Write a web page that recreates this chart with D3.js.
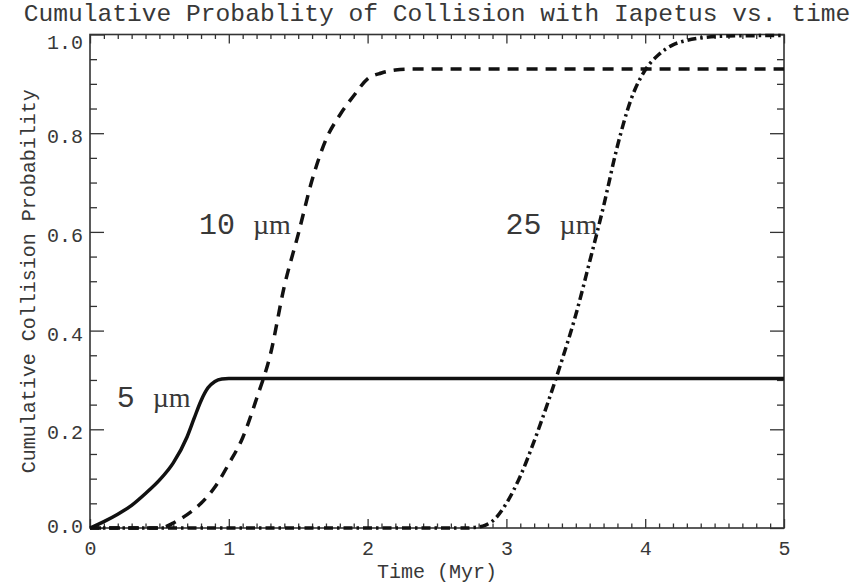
<!DOCTYPE html>
<html>
<head>
<meta charset="utf-8">
<script src="https://cdn.jsdelivr.net/npm/d3@7"></script>
<style>
  body { margin: 0; background: #fff; }
  text { font-family: "Liberation Mono", "DejaVu Sans Mono", monospace; fill: #383838; }
</style>
</head>
<body>
<svg id="chart"></svg>
<script>
// Data
const time5 = [0, 0.1, 0.2, 0.3, 0.4, 0.5, 0.6, 0.7, 0.75, 0.8, 0.85, 0.9, 0.95, 1.0, 5.0];
const prob5 = [0, 0.013, 0.028, 0.046, 0.07, 0.097, 0.132, 0.185, 0.222, 0.258, 0.284, 0.297, 0.302, 0.303, 0.303];

const time10 = [0, 0.5, 0.55, 0.6, 0.7, 0.8, 0.9, 1.0, 1.1, 1.2, 1.3, 1.4, 1.5, 1.6, 1.7, 1.8, 1.9, 2.0, 2.1, 2.2, 2.3, 5.0];
const prob10 = [0, 0, 0.003, 0.01, 0.027, 0.05, 0.083, 0.13, 0.183, 0.262, 0.352, 0.49, 0.595, 0.705, 0.787, 0.837, 0.876, 0.91, 0.922, 0.928, 0.93, 0.93];

const time25 = [0, 2.7, 2.8, 2.85, 2.9, 3.0, 3.1, 3.2, 3.3, 3.4, 3.5, 3.6, 3.7, 3.8, 3.9, 4.0, 4.1, 4.2, 4.3, 4.4, 4.6, 5.0];
const prob25 = [0, 0, 0.002, 0.006, 0.014, 0.05, 0.105, 0.176, 0.255, 0.34, 0.432, 0.54, 0.652, 0.774, 0.87, 0.928, 0.96, 0.979, 0.988, 0.993, 0.997, 0.998];

const sizeLabels = ['5', '10', '25'];
const labelTime = [0.192, 0.785, 2.994];
const labelProb = [0.246, 0.595, 0.595];

const xTicks = [0, 1, 2, 3, 4, 5];
const yTicks = [0, 0.2, 0.4, 0.6, 0.8, 1.0];

// Chart dimensions
const W = 856, H = 584;
const margin = { top: 34.5, right: 72, bottom: 56, left: 90 };
const width = W - margin.left - margin.right;
const height = H - margin.top - margin.bottom;

const root = d3.select('#chart').attr('width', W).attr('height', H);
const svg = root.append('g').attr('transform', `translate(${margin.left},${margin.top})`);

// Scales
const x = d3.scaleLinear().domain([0, 5]).range([0, width]);
const y = d3.scaleLinear().domain([0, 1]).range([height, 0]);

const xMinor = d3.range(0, 5.0001, 0.1).filter(v => Math.abs(v - Math.round(v)) > 1e-6);
const yMinor = d3.range(0, 1.0001, 0.05).filter(v => Math.abs(v * 5 - Math.round(v * 5)) > 1e-6);

// Axes: ticks point inward on all four sides
function styleAxis(g) {
  g.select('.domain').remove();
  g.selectAll('line').attr('stroke', '#333').attr('stroke-width', 1.3);
}

svg.append('g').attr('transform', `translate(0,${height})`)
  .call(d3.axisBottom(x).tickValues(xTicks).tickSize(-9).tickPadding(0).tickFormat(d3.format('d')))
  .call(styleAxis)
  .call(g => g.selectAll('text').attr('y', 27).attr('dy', 0).attr('font-size', 20));
svg.append('g').attr('transform', `translate(0,${height})`)
  .call(d3.axisBottom(x).tickValues(xMinor).tickSize(-4.5).tickFormat(''))
  .call(styleAxis);
svg.append('g')
  .call(d3.axisTop(x).tickValues(xTicks).tickSize(-9).tickFormat(''))
  .call(styleAxis);
svg.append('g')
  .call(d3.axisTop(x).tickValues(xMinor).tickSize(-4.5).tickFormat(''))
  .call(styleAxis);

svg.append('g')
  .call(d3.axisLeft(y).tickValues(yTicks).tickSize(-14).tickPadding(7).tickFormat(d3.format('.1f')))
  .call(styleAxis)
  .call(g => g.selectAll('text')
    .attr('font-size', 20)
    .attr('dy', '0.35em')
    .attr('y', d => d === 1 ? 7 : (d === 0 ? -3 : 2.5)));
svg.append('g')
  .call(d3.axisLeft(y).tickValues(yMinor).tickSize(-7).tickFormat(''))
  .call(styleAxis);
svg.append('g').attr('transform', `translate(${width},0)`)
  .call(d3.axisRight(y).tickValues(yTicks).tickSize(-14).tickFormat(''))
  .call(styleAxis);
svg.append('g').attr('transform', `translate(${width},0)`)
  .call(d3.axisRight(y).tickValues(yMinor).tickSize(-7).tickFormat(''))
  .call(styleAxis);

// Box
svg.append('rect')
  .attr('width', width).attr('height', height)
  .attr('fill', 'none').attr('stroke', '#333').attr('stroke-width', 1.6);

// Curves
const line = d3.line()
  .x(d => x(d[0]))
  .y(d => y(d[1]))
  .curve(d3.curveMonotoneX);

const series = [
  { t: time5, p: prob5, dash: null },
  { t: time10, p: prob10, dash: '11,8' },
  { t: time25, p: prob25, dash: '9,4,2.5,4' }
];

series.forEach(s => {
  svg.append('path')
    .datum(d3.zip(s.t, s.p))
    .attr('fill', 'none')
    .attr('stroke', '#111')
    .attr('stroke-width', 3.5)
    .attr('stroke-dasharray', s.dash)
    .attr('d', line);
});

// Curve labels
sizeLabels.forEach((lab, i) => {
  const t = svg.append('text')
    .attr('x', x(labelTime[i]))
    .attr('y', y(labelProb[i]))
    .attr('font-size', 30);
  t.append('tspan').text(lab);
  t.append('tspan')
    .attr('dx', 18)
    .style('font-family', '"Liberation Serif", "DejaVu Serif", serif')
    .attr('font-size', 28)
    .text('µm');
});

// Title and axis labels
root.append('text')
  .attr('x', margin.left + width / 2)
  .attr('y', 21)
  .attr('text-anchor', 'middle')
  .attr('font-size', 24.6)
  .text('Cumulative Probablity of Collision with Iapetus vs. time');

root.append('text')
  .attr('x', margin.left + width / 2)
  .attr('y', 578)
  .attr('text-anchor', 'middle')
  .attr('font-size', 20)
  .text('Time (Myr)');

root.append('text')
  .attr('transform', `translate(35,${margin.top + height / 2}) rotate(-90)`)
  .attr('text-anchor', 'middle')
  .attr('font-size', 20)
  .text('Cumulative Collision Probability');
</script>
</body>
</html>
